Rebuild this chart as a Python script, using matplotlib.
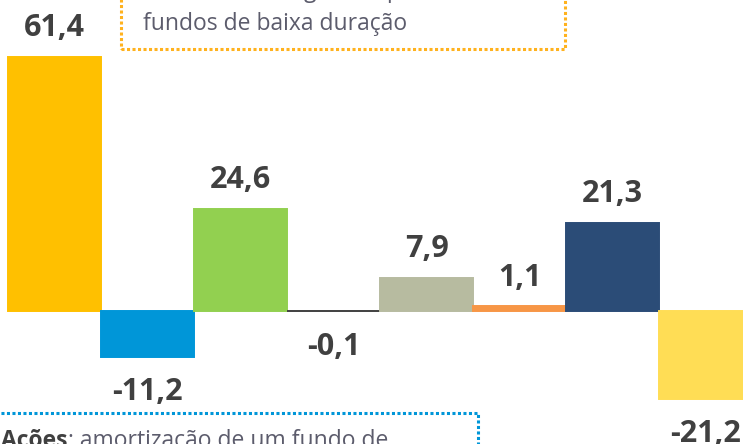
import matplotlib
matplotlib.use('Agg')
import matplotlib.pyplot as plt
from matplotlib.patches import Rectangle

# net flows per class (R$ bi)
values = [61.4, -11.2, 24.6, -0.1, 7.9, 1.1, 21.3, -21.2]
labels = ['61,4', '-11,2', '24,6', '-0,1', '7,9', '1,1', '21,3', '-21,2']
colors = ['#FFC000', '#0096D8', '#92D050', '#404040',
          '#B7BBA0', '#F79646', '#2B4C77', '#FFDD55']

top_note = ['Renda Fixa: resgates líquidos nos fundos e', 'fundos de baixa duração']
bottom_bold = 'Ações'
bottom_rest = ': amortização de um fundo de'

plt.rcParams['font.family'] = ['Open Sans', 'DejaVu Sans']

W, H = 743, 444
fig = plt.figure(figsize=(W / 100, H / 100), dpi=100)
ax = fig.add_axes([0, 0, 1, 1])

x = list(range(len(values)))
ax.bar(x, values, width=1, align='edge', color=colors,
       edgecolor=colors, linewidth=1.4)
ax.set_xlim(-0.086, 7.903)
ax.set_ylim(-32.1, 75.1)
ax.axis('off')

for xi, v, lab in zip(x, values, labels):
    off = 15 if v >= 0 else -31
    ax.annotate(lab, (xi + 0.5, v),
                xytext=(0, off), textcoords='offset points',
                ha='center', va='baseline', fontsize=22,
                fontweight='bold', color='#404040')

# dotted note boxes
def px(xp, yp):
    return xp / W, 1 - yp / H

x0, y0 = px(121, 49)
x1, _ = px(565, 0)
fig.patches.append(Rectangle((x0, y0), x1 - x0, 0.3, transform=fig.transFigure,
                             fill=False, edgecolor='#FFB21E', linewidth=2.2,
                             linestyle=(0, (1, 0.8)), figure=fig))
note_color = '#5C5C6C'
tx, ty = px(143, -3)
fig.text(tx, ty, top_note[0], fontsize=16.5, color=note_color, va='baseline')
tx, ty = px(143, 30)
fig.text(tx, ty, top_note[1], fontsize=16.5, color=note_color, va='baseline')

bx0, by0 = px(-10, 413)
bx1, _ = px(478, 0)
fig.patches.append(Rectangle((bx0, by0 - 0.3), bx1 - bx0, 0.3, transform=fig.transFigure,
                             fill=False, edgecolor='#0096D8', linewidth=2.2,
                             linestyle=(0, (1, 0.8)), figure=fig))
tx, ty = px(1, 447)
t = fig.text(tx, ty, bottom_bold, fontsize=16.5, fontweight='bold',
             color='#404040', va='baseline')
r = fig.canvas.get_renderer()
bb = t.get_window_extent(r)
fig.text(bb.x1 / W, ty, bottom_rest, fontsize=16.5, color=note_color, va='baseline')

fig.savefig('out.png', dpi=100)
